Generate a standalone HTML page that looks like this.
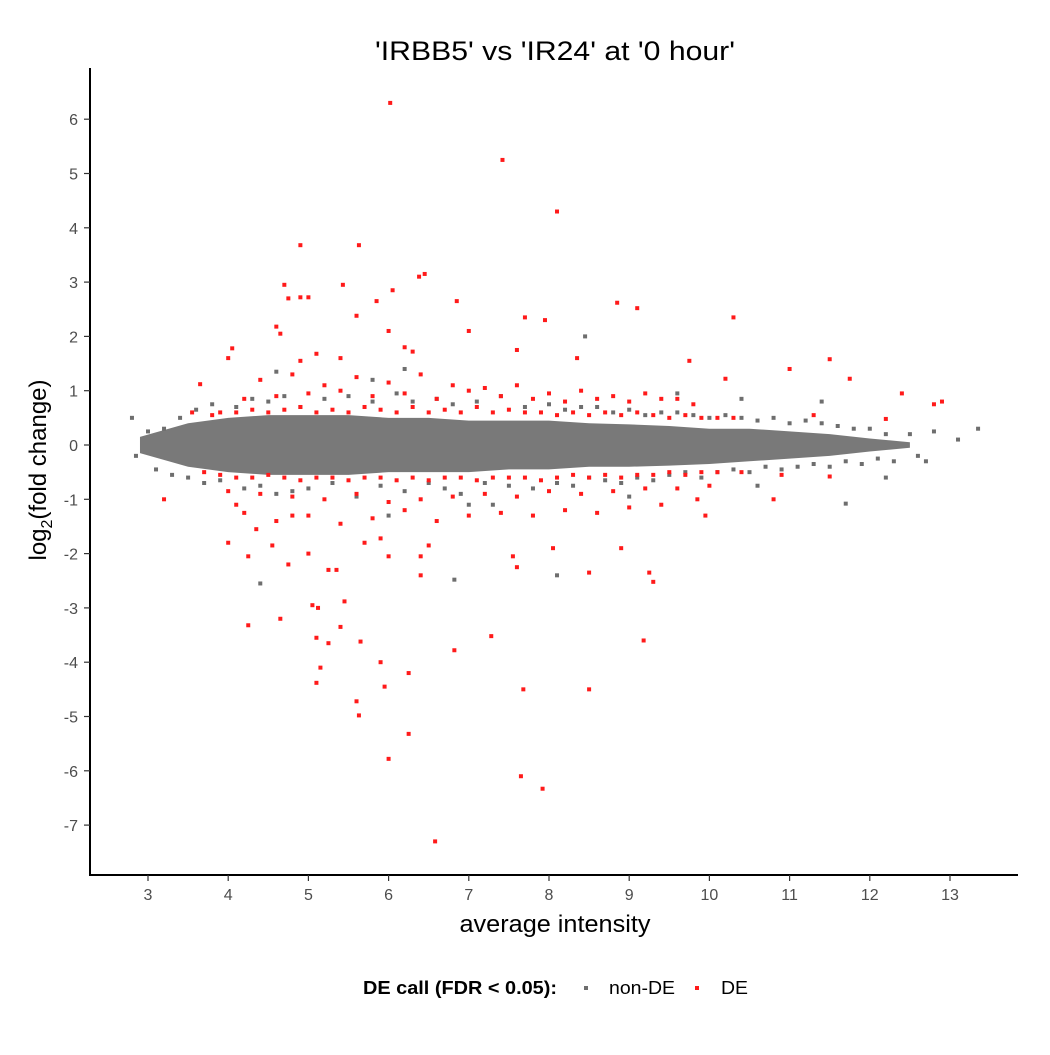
<!DOCTYPE html>
<html><head><meta charset="utf-8"><style>
body{margin:0;background:#fff;}
svg text{font-family:"Liberation Sans",Arial,sans-serif;}
</style></head><body>
<svg id="chart" width="1050" height="1050" viewBox="0 0 1050 1050" xmlns="http://www.w3.org/2000/svg">
<rect width="1050" height="1050" fill="#fff"/>
<text x="555" y="60" font-size="27" text-anchor="middle" textLength="360" lengthAdjust="spacingAndGlyphs" fill="#000">'IRBB5' vs 'IR24' at '0 hour'</text>
<g id="core"></g>
<g id="grey"></g>
<g id="red"></g>
<g id="axes"></g>
<text x="555" y="932" font-size="24" text-anchor="middle" textLength="191" lengthAdjust="spacingAndGlyphs" fill="#000">average intensity</text>
<text transform="translate(46,470) rotate(-90)" font-size="24" text-anchor="middle" fill="#000">log<tspan font-size="16" dy="6">2</tspan><tspan dy="-6">(fold change)</tspan></text>
<g>
<text x="363" y="994" font-size="18" font-weight="bold" textLength="194" lengthAdjust="spacingAndGlyphs" fill="#000">DE call (FDR &lt; 0.05):</text>
<rect x="584" y="986" width="4" height="4" fill="#6e6e6e"/>
<text x="609" y="994" font-size="18" textLength="66" lengthAdjust="spacingAndGlyphs" fill="#000">non-DE</text>
<rect x="695" y="986" width="4" height="4" fill="#ff1a1a"/>
<text x="721" y="994" font-size="18" textLength="27" lengthAdjust="spacingAndGlyphs" fill="#000">DE</text>
</g>
</svg>
<script>
const xTicks=[3,4,5,6,7,8,9,10,11,12,13];
const yTicks=[6,5,4,3,2,1,0,-1,-2,-3,-4,-5,-6,-7];
const coreX=[2.9,3.5,4,4.5,5,5.5,6,6.5,7,7.5,8,8.5,9,9.5,10,10.5,11,11.5,12,12.5];
const coreUpper=[0.15,0.4,0.5,0.55,0.55,0.55,0.5,0.5,0.45,0.45,0.45,0.4,0.38,0.35,0.3,0.3,0.25,0.2,0.12,0.05];
const coreLower=[-0.15,-0.4,-0.5,-0.55,-0.55,-0.55,-0.5,-0.5,-0.5,-0.45,-0.45,-0.4,-0.4,-0.38,-0.35,-0.3,-0.25,-0.2,-0.12,-0.05];
const greyX=[2.8,2.85,3.0,3.1,3.2,3.3,3.4,3.5,3.6,3.7,3.8,3.9,4.1,4.2,4.3,4.4,4.5,4.6,4.7,4.8,4.9,5.0,5.2,5.3,5.5,5.6,5.8,5.9,6.1,6.2,6.3,6.5,6.6,6.7,6.8,6.9,7.1,7.2,7.4,7.5,7.7,7.8,8.0,8.1,8.2,8.3,8.4,8.5,8.6,8.7,8.8,8.9,9.0,9.1,9.2,9.3,9.4,9.5,9.6,9.7,9.8,9.9,10.0,10.1,10.2,10.3,10.4,10.5,10.6,10.7,10.8,10.9,11.0,11.1,11.2,11.3,11.4,11.5,11.6,11.7,11.8,11.9,12.0,12.1,12.2,12.3,12.5,12.6,12.7,12.8,13.1,13.35,4.4,6.82,8.1,11.7,8.45,6.2,5.8,7.0,4.6,9.6,10.4,10.6,11.4,12.2,9.0,7.3,6.0];
const greyY=[0.5,-0.2,0.25,-0.45,0.3,-0.55,0.5,-0.6,0.65,-0.7,0.75,-0.65,0.7,-0.8,0.85,-0.75,0.8,-0.9,0.9,-0.85,0.7,-0.8,0.85,-0.7,0.9,-0.95,0.8,-0.75,0.95,-0.85,0.8,-0.7,0.85,-0.8,0.75,-0.9,0.8,-0.7,0.9,-0.75,0.7,-0.8,0.75,-0.7,0.65,-0.75,0.7,-0.6,0.7,-0.65,0.6,-0.7,0.65,-0.6,0.55,-0.65,0.6,-0.55,0.6,-0.5,0.55,-0.6,0.5,-0.5,0.55,-0.45,0.5,-0.5,0.45,-0.4,0.5,-0.45,0.4,-0.4,0.45,-0.35,0.4,-0.4,0.35,-0.3,0.3,-0.35,0.3,-0.25,0.2,-0.3,0.2,-0.2,-0.3,0.25,0.1,0.3,-2.55,-2.48,-2.4,-1.08,2.0,1.4,1.2,-1.1,1.35,0.95,0.85,-0.75,0.8,-0.6,-0.95,-1.1,-1.3];
const redX=[6.02,7.42,8.1,4.9,5.63,4.7,5.43,6.45,6.38,4.75,4.9,5.0,5.85,6.05,6.85,8.85,9.1,4.6,4.65,5.6,6.0,7.0,7.7,7.95,10.3,4.05,4.0,4.9,5.1,5.4,6.2,6.3,7.6,8.35,9.75,11.5,11.0,11.75,10.2,3.65,3.55,12.4,12.8,12.9,12.2,11.3,11.5,10.8,10.9,9.95,9.85,3.2,4.25,4.55,4.75,4.0,4.25,4.65,5.05,5.12,5.45,5.1,5.25,5.4,5.65,5.15,5.1,5.6,5.63,5.9,5.95,6.25,6.25,6.0,6.58,6.82,7.28,7.68,7.65,7.92,8.5,9.18,9.3,9.25,8.9,8.5,8.05,7.55,7.6,6.4,6.4,6.5,6.0,5.9,5.7,5.0,5.25,5.35,4.8,4.35,4.1,
3.8,3.9,4.1,4.3,4.5,4.7,4.9,5.1,5.3,5.5,5.7,5.9,6.1,6.3,6.5,6.7,6.9,7.1,7.3,7.5,7.7,7.9,8.1,8.3,8.5,8.7,8.9,9.1,9.3,9.5,9.7,9.9,10.1,10.3,
3.7,3.9,4.1,4.3,4.5,4.7,4.9,5.1,5.3,5.5,5.7,5.9,6.1,6.3,6.5,6.7,6.9,7.1,7.3,7.5,7.7,7.9,8.1,8.3,8.5,8.7,8.9,9.1,9.3,9.5,9.7,9.9,10.1,10.4,
4.2,4.6,5.0,5.4,5.8,6.2,6.6,7.0,7.4,7.8,8.2,8.6,9.0,9.4,9.8,
4.4,4.8,5.2,5.6,6.0,6.4,6.8,7.2,7.6,8.0,8.4,8.8,9.2,9.6,
4.0,4.4,4.8,5.2,5.6,6.0,6.4,6.8,7.2,7.6,8.0,8.4,8.8,9.2,9.6,10.0,
4.2,4.6,5.0,5.4,5.8,6.2,6.6,7.0,7.4,7.8,8.2,8.6,9.0,9.4];
const redY=[6.3,5.25,4.3,3.68,3.68,2.95,2.95,3.15,3.1,2.7,2.72,2.72,2.65,2.85,2.65,2.62,2.52,2.18,2.05,2.38,2.1,2.1,2.35,2.3,2.35,1.78,1.6,1.55,1.68,1.6,1.8,1.72,1.75,1.6,1.55,1.58,1.4,1.22,1.22,1.12,0.6,0.95,0.75,0.8,0.48,0.55,-0.58,-1.0,-0.55,-1.3,-1.0,-1.0,-2.05,-1.85,-2.2,-1.8,-3.32,-3.2,-2.95,-3.0,-2.88,-3.55,-3.65,-3.35,-3.62,-4.1,-4.38,-4.72,-4.98,-4.0,-4.45,-4.2,-5.32,-5.78,-7.3,-3.78,-3.52,-4.5,-6.1,-6.33,-4.5,-3.6,-2.52,-2.35,-1.9,-2.35,-1.9,-2.05,-2.25,-2.05,-2.4,-1.85,-2.05,-1.72,-1.8,-2.0,-2.3,-2.3,-1.3,-1.55,-1.1,
0.55,0.6,0.6,0.65,0.6,0.65,0.7,0.6,0.65,0.6,0.7,0.65,0.6,0.7,0.6,0.65,0.6,0.7,0.6,0.65,0.6,0.6,0.55,0.6,0.55,0.6,0.55,0.6,0.55,0.5,0.55,0.5,0.5,0.5,
-0.5,-0.55,-0.6,-0.6,-0.55,-0.6,-0.65,-0.6,-0.6,-0.65,-0.6,-0.6,-0.65,-0.6,-0.65,-0.6,-0.6,-0.65,-0.6,-0.6,-0.6,-0.65,-0.6,-0.55,-0.6,-0.55,-0.6,-0.55,-0.55,-0.5,-0.55,-0.5,-0.5,-0.5,
0.85,0.9,0.95,1.0,0.9,0.95,0.85,1.0,0.9,0.85,0.8,0.85,0.8,0.85,0.75,
1.2,1.3,1.1,1.25,1.15,1.3,1.1,1.05,1.1,0.95,1.0,0.9,0.95,0.85,
-0.85,-0.9,-0.95,-1.0,-0.9,-1.05,-1.0,-0.95,-0.9,-0.95,-0.85,-0.9,-0.85,-0.8,-0.8,-0.75,
-1.25,-1.4,-1.3,-1.45,-1.35,-1.2,-1.4,-1.3,-1.25,-1.3,-1.2,-1.25,-1.15,-1.1];
const NS='http://www.w3.org/2000/svg';
function sx(v){return 148+(v-3)*80.2;}
function sy(v){return 445-v*54.3;}
function mk(tag,attrs,parent){const e=document.createElementNS(NS,tag);for(const k in attrs)e.setAttribute(k,attrs[k]);parent.appendChild(e);return e;}
const core=document.getElementById('core');
let d='M'+coreX.map((x,i)=>sx(x)+','+sy(coreUpper[i])).join('L');
for(let i=coreX.length-1;i>=0;i--)d+='L'+sx(coreX[i])+','+sy(coreLower[i]);
const cp=mk('path',{d:d+'Z',fill:'#6e6e6e','fill-opacity':'0.92'},core);


const grey=document.getElementById('grey');
greyX.forEach((x,i)=>{const r=mk('rect',{x:sx(x)-2,y:sy(greyY[i])-2,width:4,height:4,fill:'#6e6e6e'},grey);

});
const red=document.getElementById('red');
redX.forEach((x,i)=>{const r=mk('rect',{x:sx(x)-2,y:sy(redY[i])-2,width:4,height:4,fill:'#ff1a1a'},red);

});
const ax=document.getElementById('axes');
const yl=mk('line',{x1:90,y1:68,x2:90,y2:875,stroke:'#000','stroke-width':2},ax);


const xl=mk('line',{x1:89,y1:875,x2:1018,y2:875,stroke:'#000','stroke-width':2},ax);


xTicks.forEach(t=>{mk('line',{x1:sx(t),y1:875,x2:sx(t),y2:881,stroke:'#333','stroke-width':1.2},ax);
const tx=mk('text',{x:sx(t),y:900,'font-size':16,'text-anchor':'middle',fill:'#4d4d4d'},ax);tx.textContent=t;

});
yTicks.forEach(t=>{mk('line',{x1:84,y1:sy(t),x2:90,y2:sy(t),stroke:'#333','stroke-width':1.2},ax);
const tx=mk('text',{x:78,y:sy(t)+6,'font-size':16,'text-anchor':'end',fill:'#4d4d4d'},ax);tx.textContent=t;

});
</script>
</body></html>
